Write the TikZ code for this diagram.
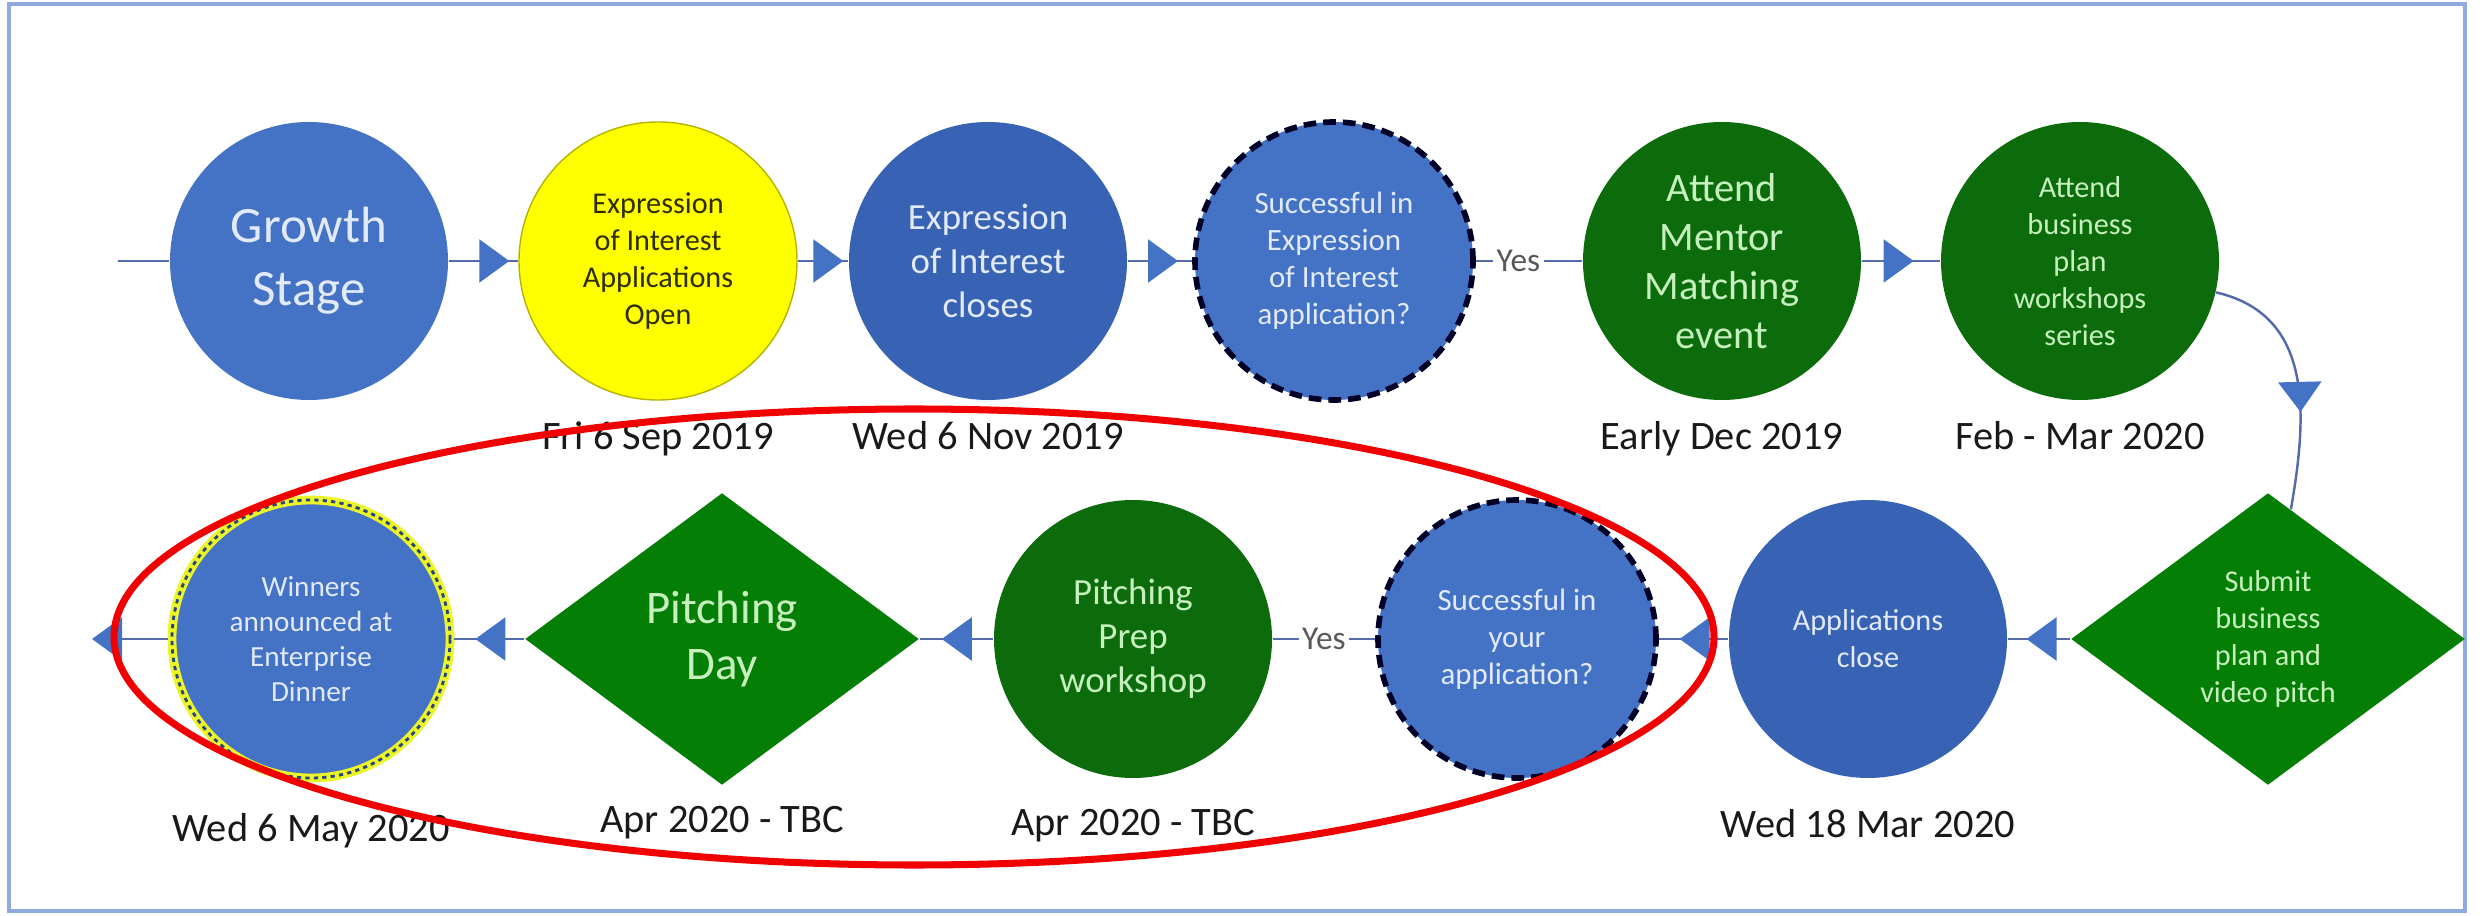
\documentclass[tikz,border=0pt]{standalone}
\usepackage{fontspec}
\setmainfont{Carlito}
\usetikzlibrary{positioning}
\usetikzlibrary{shapes.geometric}
\usetikzlibrary{arrows.meta}
\usetikzlibrary{decorations.markings}

\definecolor{blueA}{RGB}{68,114,196}
\definecolor{blueB}{RGB}{56,98,180}
\definecolor{greenA}{RGB}{12,108,12}
\definecolor{greenB}{RGB}{4,126,4}
\definecolor{lineC}{RGB}{84,106,170}
\definecolor{paleG}{RGB}{198,240,190}
\definecolor{paleB}{RGB}{226,234,250}
\definecolor{frameC}{RGB}{143,170,220}
\definecolor{yelA}{RGB}{255,255,0}
\definecolor{yelEdge}{RGB}{180,180,0}
\definecolor{yelText}{RGB}{45,45,0}
\definecolor{yelGlow}{RGB}{235,245,40}
\definecolor{redA}{RGB}{240,0,0}

\newcommand{\fsz}[2]{\fontsize{#1}{#2}\selectfont}

\begin{document}
\begin{tikzpicture}[
    stage/.style={circle, minimum size=2.78cm, inner sep=0pt, align=center},
    bluestage/.style={stage, fill=blueA, text=paleB},
    greenstage/.style={stage, fill=greenA, text=paleG},
    question/.style={bluestage, draw=black!85!blue, line width=1.6pt, dash pattern=on 3.6pt off 2pt},
    gate/.style={diamond, minimum width=3.94cm, minimum height=2.92cm, inner sep=0pt, fill=greenB, text=paleG, align=center},
    datetxt/.style={inner sep=0pt, text=black!90, font=\fsz{11.5}{13}},
    yestxt/.style={fill=white, inner sep=1pt, text=black!65, font=\fsz{9.5}{11}},
    link/.style={draw=lineC, line width=.7pt},
    flow/.style={link, postaction={decorate}, decoration={markings, mark=at position #1 with {\arrow{Triangle[length=3mm,width=4.3mm,color=blueA]}}}},
    flow/.default=0.7
]
    \useasboundingbox (0,0) rectangle (24.89,9.15);
    \draw[frameC, line width=1pt] (0.09,0.04) rectangle (24.65,9.11);

    \coordinate (start) at (1.18,6.54);
    \node[bluestage, font=\fsz{14.5}{18}] (growth) at (3.09,6.54) {Growth\\Stage};
    \node[stage, fill=yelA, draw=yelEdge, text=yelText, font=\fsz{8.6}{10.5}] (eoiopen) at (6.58,6.54) {Expression\\of Interest\\Applications\\Open};
    \node[bluestage, fill=blueB, font=\fsz{10.5}{12.5}] (eoiclose) at (9.88,6.54) {Expression\\of Interest\\closes};
    \node[question, font=\fsz{8.8}{10.5}] (eoiq) at (13.34,6.54) {Successful in\\Expression\\of Interest\\application?};
    \node[greenstage, font=\fsz{11.5}{14}] (mentor) at (17.22,6.54) {Attend\\Mentor\\Matching\\event};
    \node[greenstage, font=\fsz{8.6}{10.5}] (bizplan) at (20.80,6.54) {Attend\\business\\plan\\workshops\\series};

    \node[gate, font=\fsz{8.6}{10.5}] (submit) at (22.68,2.76) {Submit\\business\\plan and\\video pitch};
    \node[bluestage, fill=blueB, font=\fsz{8.6}{10.5}] (appclose) at (18.68,2.76) {Applications\\close};
    \node[question, font=\fsz{8.8}{10.5}] (appq) at (15.17,2.76) {Successful in\\your\\application?};
    \node[greenstage, font=\fsz{10.5}{12.5}] (prep) at (11.33,2.76) {Pitching\\Prep\\workshop};
    \node[gate, font=\fsz{13.3}{16}] (pitchday) at (7.22,2.76) {Pitching\\Day};
    \node[bluestage, draw=yelGlow, line width=2.5pt, postaction={draw=blueB!70!black, line width=.8pt, dash pattern=on 1.2pt off 1.2pt}, font=\fsz{8.3}{10}] (winners) at (3.11,2.76) {Winners\\announced at\\Enterprise\\Dinner};
    \coordinate (finish) at (0.92,2.76);

    \node[datetxt, below=2mm of eoiopen] (d1) {Fri 6 Sep 2019};
    \node[datetxt, below=2mm of eoiclose] (d2) {Wed 6 Nov 2019};
    \node[datetxt, below=2mm of mentor] (d3) {Early Dec 2019};
    \node[datetxt, below=2mm of bizplan] (d4) {Feb - Mar 2020};
    \node[datetxt, below=3mm of appclose] (d5) {Wed 18 Mar 2020};
    \node[datetxt, below=3mm of prep] (d6) {Apr 2020 - TBC};
    \node[datetxt, below=2mm of pitchday] (d7) {Apr 2020 - TBC};
    \node[datetxt, below=3mm of winners] (d8) {Wed 6 May 2020};

    \draw[link] (start) -- (growth);
    \draw[flow=0.87] (growth) -- (eoiopen);
    \draw[flow=0.9] (eoiopen) -- (eoiclose);
    \draw[flow=0.78] (eoiclose) -- (eoiq);
    \draw[link] (eoiq) -- node[yestxt, pos=0.4] (yes1) {Yes} (mentor);
    \draw[flow=0.66] (mentor) -- (bizplan);
    \draw[flow=0.62] (bizplan) to[out=-13, in=80, looseness=1.1] (submit);
    \draw[flow] (submit) -- (appclose);
    \draw[flow] (appclose) -- (appq);
    \draw[link] (appq) -- node[yestxt] (yes2) {Yes} (prep);
    \draw[flow] (prep) -- (pitchday);
    \draw[flow] (pitchday) -- (winners);
    \draw[link, -{Triangle[length=3mm,width=4.3mm,color=blueA]}] (winners) -- (finish);

    \draw[redA, line width=2pt] (9.14,2.78) ellipse [x radius=8.0, y radius=2.28];
\end{tikzpicture}
\end{document}
